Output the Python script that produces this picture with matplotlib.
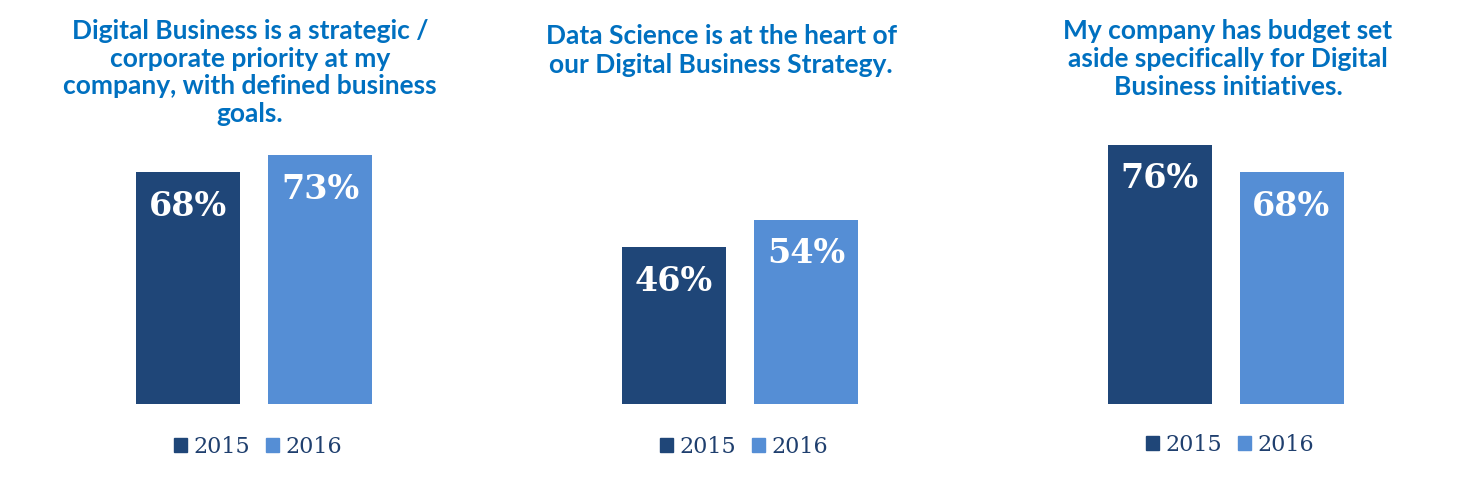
import matplotlib.pyplot as plt
from matplotlib.patches import Patch

# survey data
years = ['2015', '2016']
titles = [
    'Digital Business is a strategic /\ncorporate priority at my\ncompany, with defined business\ngoals.',
    'Data Science is at the heart of\nour Digital Business Strategy.',
    'My company has budget set\naside specifically for Digital\nBusiness initiatives.',
]
values_2015 = [68, 46, 76]
values_2016 = [73, 54, 68]

DARK = '#1F4678'
LIGHT = '#558ED5'
TITLE_COLOR = '#0070C0'
LEGEND_TEXT = '#1F3F6E'

W, H = 1480, 482
fig = plt.figure(figsize=(W / 100, H / 100), dpi=100)

# pixel layout of each panel: centre of the 2015 bar, bottom of bars
bar_centres = [188, 674, 1159.5]
spacing = 132          # px between bar centres
bar_width = 104 / 132  # in data units
bottom_px = 404
px_per_unit = 3.41
title_centres = [250, 721, 1228]
title_tops = [19, 24, 19]
title_spacing = [1.18, 1.24, 1.2]
legend_centres = [258, 744, 1230]
legend_y = [447, 447, 445]

for i in range(3):
    left_px = bar_centres[i] - spacing
    ax_w = 3 * spacing
    ax_h = 90 * px_per_unit
    ax = fig.add_axes([left_px / W, (H - bottom_px) / H, ax_w / W, ax_h / H])
    ax.set_xlim(-1, 2)
    ax.set_ylim(0, 90)
    vals = [values_2015[i], values_2016[i]]
    ax.bar([0, 1], vals, width=bar_width, color=[DARK, LIGHT])
    for x, v in zip([0, 1], vals):
        ax.text(x, v - 10, f'{v}%', ha='center', va='center', color='white',
                fontsize=24, fontweight='bold', family='DejaVu Serif')
    ax.axis('off')

    fig.text(title_centres[i] / W, 1 - title_tops[i] / H, titles[i],
             ha='center', va='top', color=TITLE_COLOR, fontsize=19,
             fontweight='bold', family='Lato', linespacing=title_spacing[i])

    handles = [Patch(color=DARK, label=years[0]), Patch(color=LIGHT, label=years[1])]
    fig.legend(handles=handles, loc='center', ncol=2, frameon=False,
               bbox_to_anchor=(legend_centres[i] / W, 1 - legend_y[i] / H),
               prop={'family': 'DejaVu Serif', 'size': 16},
               labelcolor=LEGEND_TEXT, handlelength=0.6, handleheight=0.6,
               handletextpad=0.3, columnspacing=0.7, borderaxespad=0)

fig.savefig('out.png', dpi=100)
